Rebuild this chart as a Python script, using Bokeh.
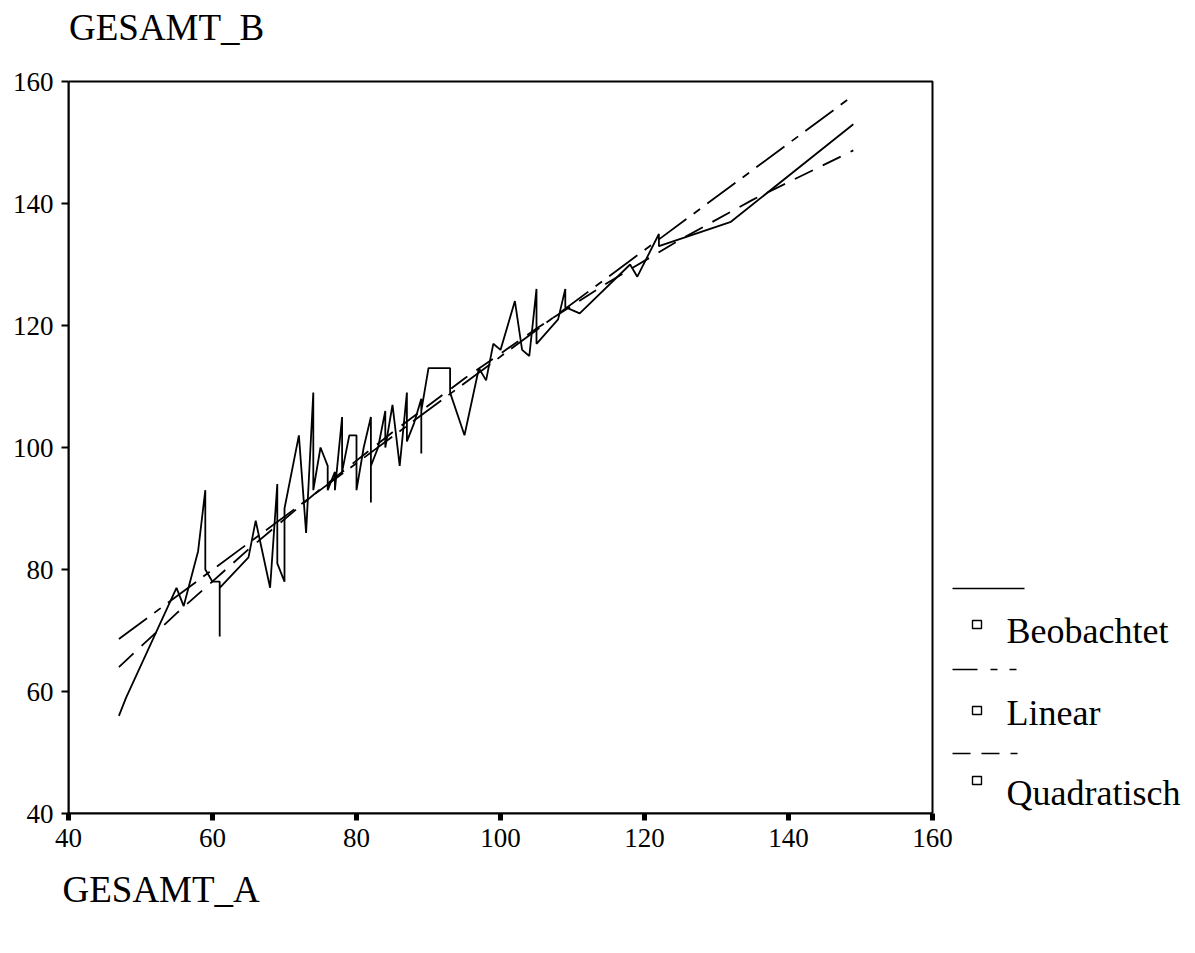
from bokeh.plotting import figure
from bokeh.models import Label, Arrow, BoxAnnotation, FixedTicker, Range1d, Title
from bokeh.embed import file_html
from bokeh.resources import INLINE

# ---------------- data ----------------
obs_x = [47, 48, 55, 56, 58, 59, 59, 60, 61, 61, 61, 65, 66, 68, 69, 69, 70, 70,
         72, 73, 74, 74, 75, 76, 76, 77, 77, 78, 78, 79, 80, 80, 81, 82, 82, 82,
         83, 84, 84, 85, 86, 87, 87, 88, 89, 89, 89, 90, 93, 93, 95, 97, 98, 99,
         100, 102, 103, 104, 105, 105, 108, 109, 109, 111, 118, 119, 122, 122,
         132, 149]
obs_y = [56, 59, 77, 74, 83, 93, 80, 78, 78, 69, 77, 82, 88, 77, 94, 81, 78, 90,
         102, 86, 109, 93, 100, 97, 93, 96, 93, 105, 96, 102, 102, 93, 100, 105, 91, 97,
         100, 106, 100, 107, 97, 109, 101, 104, 108, 99, 106, 113, 113, 109, 102, 113, 111, 117,
         116, 124, 116, 115, 126, 117, 121, 126, 123, 122, 130, 128, 135, 133,
         137, 153]

lin_x = [47, 149]
lin_y = [68.6, 157.7]

quad_x = [47, 55, 65, 75, 85, 95, 105, 115, 125, 135, 149]
quad_y = [64.0, 72.8, 83.3, 93.2, 102.5, 111.3, 119.5, 127.1, 134.1, 140.6, 148.7]

x_ticks = [40, 60, 80, 100, 120, 140, 160]
y_ticks = [40, 60, 80, 100, 120, 140, 160]
x_lo, x_hi = 40, 160
y_lo, y_hi = 40, 160

x_title = "GESAMT_A"
y_title = "GESAMT_B"
legend_labels = ["Beobachtet", "Linear", "Quadratisch"]

# ---------------- layout ----------------
W, H = 1195, 950
FL, FT, FB = 68, 81, 813          # plot box left / top / bottom on the page
PX_PER_X = 864 / (x_hi - x_lo)    # plot box is 864 px wide
PX_PER_Y = (FB - FT) / (y_hi - y_lo)
FONT = "Liberation Serif"

# the frame reaches the right and top edges of the canvas (room for legend and title)
x_end = x_lo + (W - FL) / PX_PER_X
y_end = y_lo + FB / PX_PER_Y

p = figure(width=W, height=H, x_range=Range1d(x_lo, x_end), y_range=Range1d(y_lo, y_end),
           output_backend="svg", toolbar_location=None,
           min_border_left=FL, min_border_right=0, min_border_top=0,
           min_border_bottom=H - FB)
p.xgrid.visible = False
p.ygrid.visible = False
p.background_fill_color = "white"
p.border_fill_color = "white"
p.outline_line_color = None

for ax, ticks, bounds in ((p.xaxis[0], x_ticks, (x_lo, x_hi)), (p.yaxis[0], y_ticks, (y_lo, y_hi))):
    ax.ticker = FixedTicker(ticks=ticks)
    ax.bounds = bounds
    ax.axis_line_color = "black"
    ax.axis_line_width = 2
    ax.major_tick_line_color = "black"
    ax.major_tick_in = 0
    ax.major_tick_out = 7
    ax.minor_tick_line_color = None
    ax.major_label_text_font = FONT
    ax.major_label_text_font_size = "27px"
    ax.major_label_text_color = "black"
    ax.major_label_standoff = 8
p.xaxis[0].major_tick_line_width = 5
p.yaxis[0].major_tick_line_width = 2

# plot box (top and right edges)
p.add_layout(BoxAnnotation(left=x_lo, right=x_hi, bottom=y_lo, top=y_hi,
                           fill_alpha=0, line_color="black", line_width=2, line_alpha=1))

p.line(obs_x, obs_y, line_color="black", line_width=1.8)
p.line(lin_x, lin_y, line_color="black", line_width=1.8, line_dash="35 9 8 9")
p.line(quad_x, quad_y, line_color="black", line_width=1.8, line_dash="20 11")

# x title below the axis
p.add_layout(Title(text=x_title, align="left", offset=-6, standoff=34,
                   text_font=FONT, text_font_size="37px", text_font_style="normal",
                   text_color="black"), "below")

# page-pixel helpers for texts / legend inside the frame
def sx(px):
    return px - FL
def sy(py):
    return FB - py

p.add_layout(Label(x=sx(68.5), y=sy(27), x_units="screen", y_units="screen", text=y_title,
                   text_font=FONT, text_font_size="37px", text_color="black",
                   text_baseline="alphabetic"))

legend_rows = [(588, 624, 630, None), (669, 710, 712, "25 13 7 12 7 100"),
               (753, 780, 792, "18 11 18 11 7 100")]
for label, (ly, sqy, by, dash) in zip(legend_labels, legend_rows):
    kw = {} if dash is None else {"line_dash": dash}
    p.add_layout(Arrow(end=None, x_start=sx(952), y_start=sy(ly), x_end=sx(1024), y_end=sy(ly),
                       start_units="screen", end_units="screen", line_color="black",
                       line_width=1.6, **kw))
    p.add_layout(BoxAnnotation(left=sx(972), right=sx(981), top=sy(sqy - 4), bottom=sy(sqy + 4),
                               left_units="screen", right_units="screen",
                               top_units="screen", bottom_units="screen",
                               fill_alpha=0, line_color="black", line_width=1.4,
                               line_alpha=1))
    p.add_layout(Label(x=sx(1006), y=sy(by), x_units="screen", y_units="screen", text=label,
                       text_font=FONT, text_font_size="36px", text_color="black",
                       text_baseline="alphabetic"))

open("out.html", "w").write(file_html(p, INLINE))
